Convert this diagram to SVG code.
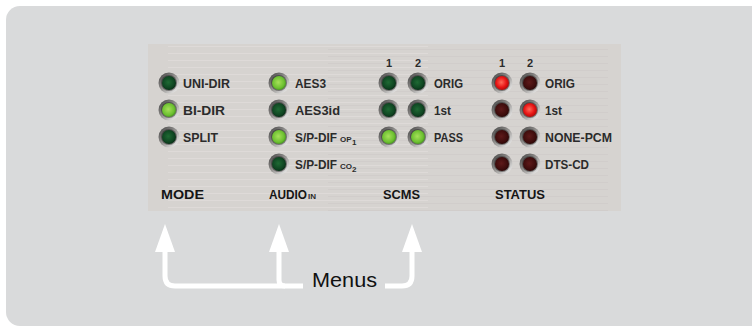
<svg xmlns="http://www.w3.org/2000/svg" width="752" height="327" viewBox="0 0 752 327">
<defs>
<style>
.lbl{font-family:"Liberation Sans",Arial,sans-serif;font-weight:bold;font-size:13px;fill:#2b2b2b}
.ttl{font-family:"Liberation Sans",Arial,sans-serif;font-weight:bold;font-size:12.5px;fill:#151515}
.sm{font-family:"Liberation Sans",Arial,sans-serif;font-weight:bold;font-size:8px;fill:#2b2b2b}
.hd{font-family:"Liberation Sans",Arial,sans-serif;font-weight:bold;font-size:11px;fill:#2b2b2b}
.menu{font-family:"Liberation Sans",Arial,sans-serif;font-size:20px;fill:#111}
.conn{fill:none;stroke:#fff;stroke-width:5}
.head{fill:#fff}
</style>
<linearGradient id="bez" x1="0" y1="0" x2="1" y2="1">
<stop offset="0" stop-color="#3e3e3e"/>
<stop offset="0.45" stop-color="#8f8d8b"/>
<stop offset="1" stop-color="#ffffff"/>
</linearGradient>
<radialGradient id="gOn" cx="0.45" cy="0.45" r="0.6">
<stop offset="0" stop-color="#a6e05a"/>
<stop offset="0.7" stop-color="#6cc030"/>
<stop offset="1" stop-color="#3f8a1c"/>
</radialGradient>
<radialGradient id="gOff" cx="0.45" cy="0.45" r="0.6">
<stop offset="0" stop-color="#1f6a34"/>
<stop offset="0.7" stop-color="#0f4522"/>
<stop offset="1" stop-color="#062612"/>
</radialGradient>
<radialGradient id="rOn" cx="0.45" cy="0.45" r="0.6">
<stop offset="0" stop-color="#ff6a5a"/>
<stop offset="0.6" stop-color="#e81515"/>
<stop offset="1" stop-color="#a00a0a"/>
</radialGradient>
<radialGradient id="rOff" cx="0.45" cy="0.45" r="0.6">
<stop offset="0" stop-color="#5e1a1a"/>
<stop offset="0.7" stop-color="#3e0d0d"/>
<stop offset="1" stop-color="#250606"/>
</radialGradient>
<pattern id="brush" x="148" y="44" width="473" height="7" patternUnits="userSpaceOnUse">
<rect width="473" height="7" fill="#d6d3d0"/>
<rect x="20" y="2" width="260" height="1" fill="#e2e0dd" opacity="0.6"/>
<rect x="180" y="5" width="280" height="1" fill="#cbc8c5" opacity="0.5"/>
</pattern>
<g id="led">
<circle r="10.5" fill="url(#bez)"/>
<circle r="8" fill="#1a1a1a" opacity="0.45"/>
</g>
</defs>
<rect x="6" y="6" width="800" height="320" rx="14" fill="#d9dadb"/>
<g id="plate">
<rect x="148" y="44" width="473" height="167" fill="url(#brush)"/>
</g>
<g id="mode">
<use href="#led" x="169" y="83"/><circle cx="169" cy="83" r="7" fill="url(#gOff)"/>
<use href="#led" x="169" y="110"/><circle cx="169" cy="110" r="7" fill="url(#gOn)"/>
<use href="#led" x="169" y="137"/><circle cx="169" cy="137" r="7" fill="url(#gOff)"/>
<text class="lbl" x="183" y="88" textLength="47" lengthAdjust="spacingAndGlyphs">UNI-DIR</text>
<text class="lbl" x="183" y="115" textLength="42" lengthAdjust="spacingAndGlyphs">BI-DIR</text>
<text class="lbl" x="183" y="142" textLength="35" lengthAdjust="spacingAndGlyphs">SPLIT</text>
<text class="ttl" x="161" y="199" textLength="43" lengthAdjust="spacingAndGlyphs">MODE</text>
</g>
<g id="audio">
<use href="#led" x="279" y="83"/><circle cx="279" cy="83" r="7" fill="url(#gOn)"/>
<use href="#led" x="279" y="110"/><circle cx="279" cy="110" r="7" fill="url(#gOff)"/>
<use href="#led" x="279" y="137"/><circle cx="279" cy="137" r="7" fill="url(#gOn)"/>
<use href="#led" x="279" y="164"/><circle cx="279" cy="164" r="7" fill="url(#gOff)"/>
<text class="lbl" x="295" y="88" textLength="31" lengthAdjust="spacingAndGlyphs">AES3</text>
<text class="lbl" x="295" y="115" textLength="45" lengthAdjust="spacingAndGlyphs">AES3id</text>
<text class="lbl" x="295" y="142" textLength="42" lengthAdjust="spacingAndGlyphs">S/P-DIF</text>
<text class="sm" x="340" y="142">OP</text><text class="sm" x="352" y="145" font-size="6.5">1</text>
<text class="lbl" x="295" y="169" textLength="42" lengthAdjust="spacingAndGlyphs">S/P-DIF</text>
<text class="sm" x="340" y="169">CO</text><text class="sm" x="352" y="172" font-size="6.5">2</text>
<text class="ttl" x="269" y="199" textLength="38" lengthAdjust="spacingAndGlyphs">AUDIO</text>
<text class="sm" x="308" y="199" font-size="7.5">IN</text>
</g>
<g id="scms">
<text class="hd" x="389" y="67" text-anchor="middle">1</text>
<text class="hd" x="418" y="67" text-anchor="middle">2</text>
<use href="#led" x="389" y="83"/><circle cx="389" cy="83" r="7" fill="url(#gOff)"/>
<use href="#led" x="418" y="83"/><circle cx="418" cy="83" r="7" fill="url(#gOff)"/>
<use href="#led" x="389" y="110"/><circle cx="389" cy="110" r="7" fill="url(#gOff)"/>
<use href="#led" x="418" y="110"/><circle cx="418" cy="110" r="7" fill="url(#gOff)"/>
<use href="#led" x="389" y="137"/><circle cx="389" cy="137" r="7" fill="url(#gOn)"/>
<use href="#led" x="418" y="137"/><circle cx="418" cy="137" r="7" fill="url(#gOn)"/>
<text class="lbl" x="434" y="88" textLength="29" lengthAdjust="spacingAndGlyphs">ORIG</text>
<text class="lbl" x="434" y="115" textLength="17" lengthAdjust="spacingAndGlyphs">1st</text>
<text class="lbl" x="434" y="142" textLength="29" lengthAdjust="spacingAndGlyphs">PASS</text>
<text class="ttl" x="383" y="199" textLength="37" lengthAdjust="spacingAndGlyphs">SCMS</text>
</g>
<g id="status">
<text class="hd" x="502" y="67" text-anchor="middle">1</text>
<text class="hd" x="530" y="67" text-anchor="middle">2</text>
<use href="#led" x="502" y="83"/><circle cx="502" cy="83" r="7" fill="url(#rOn)"/>
<use href="#led" x="530" y="83"/><circle cx="530" cy="83" r="7" fill="url(#rOff)"/>
<use href="#led" x="502" y="110"/><circle cx="502" cy="110" r="7" fill="url(#rOff)"/>
<use href="#led" x="530" y="110"/><circle cx="530" cy="110" r="7" fill="url(#rOn)"/>
<use href="#led" x="502" y="137"/><circle cx="502" cy="137" r="7" fill="url(#rOff)"/>
<use href="#led" x="530" y="137"/><circle cx="530" cy="137" r="7" fill="url(#rOff)"/>
<use href="#led" x="502" y="164"/><circle cx="502" cy="164" r="7" fill="url(#rOff)"/>
<use href="#led" x="530" y="164"/><circle cx="530" cy="164" r="7" fill="url(#rOff)"/>
<text class="lbl" x="545" y="88" textLength="30" lengthAdjust="spacingAndGlyphs">ORIG</text>
<text class="lbl" x="545" y="115" textLength="17" lengthAdjust="spacingAndGlyphs">1st</text>
<text class="lbl" x="545" y="142" textLength="67" lengthAdjust="spacingAndGlyphs">NONE-PCM</text>
<text class="lbl" x="545" y="169" textLength="44" lengthAdjust="spacingAndGlyphs">DTS-CD</text>
<text class="ttl" x="495" y="199" textLength="50" lengthAdjust="spacingAndGlyphs">STATUS</text>
</g>
<g id="connectors">
<path class="conn" d="M165,250 V276 Q165,286 175,286 H303"/>
<path class="conn" d="M279,250 V280 Q279,286 285,286"/>
<path class="conn" d="M385,286 H402 Q412,286 412,276 V250"/>
<polygon class="head" points="165,224 155,252 175,252"/>
<polygon class="head" points="279,224 269,252 289,252"/>
<polygon class="head" points="412,224 402,252 422,252"/>
</g>
<g id="menus">
<text class="menu" x="312" y="287" textLength="65" lengthAdjust="spacingAndGlyphs">Menus</text>
</g>
</svg>
